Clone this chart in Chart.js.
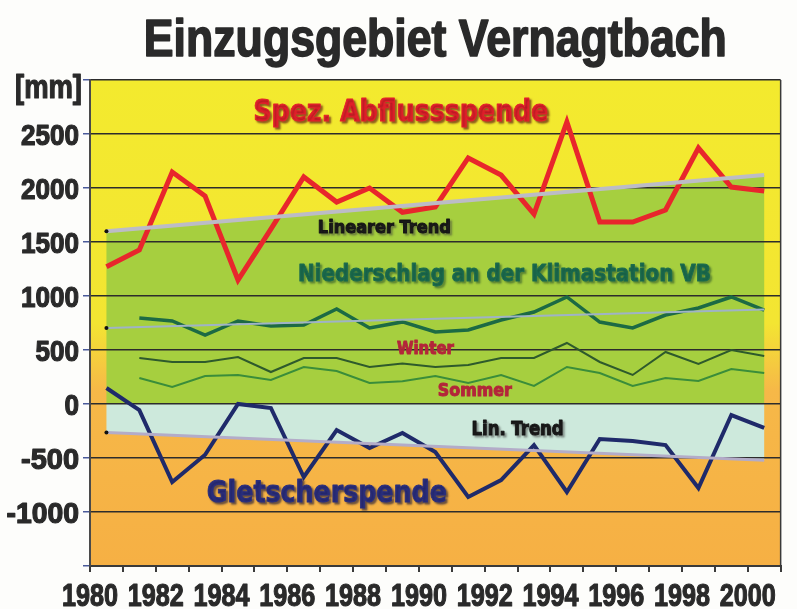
<!DOCTYPE html>
<html>
<head>
<meta charset="utf-8">
<script src="https://cdn.jsdelivr.net/npm/chart.js@4.4.0/dist/chart.umd.min.js"></script>
<style>
    html, body { margin: 0; padding: 0; background: #fdfdfb; }
    #wrap { width: 797px; height: 609px; }
</style>
</head>
<body>
<div id="wrap"><canvas id="chart" width="797" height="609"></canvas></div>
<script>
// hydrological years, plotted at mid-year
const years = [1980, 1981, 1982, 1983, 1984, 1985, 1986, 1987, 1988, 1989, 1990,
               1991, 1992, 1993, 1994, 1995, 1996, 1997, 1998, 1999, 2000];

// Spez. Abflussspende [mm]
const runoff = [1270, 1426, 2148, 1926, 1148, 1620, 2102, 1870, 2000, 1775, 1824,
                2278, 2120, 1759, 2611, 1685, 1685, 1796, 2370, 2009, 1972];
// Niederschlag an der Klimastation VB
const precip = [null, 796, 769, 639, 769, 722, 731, 880, 704, 760, 667,
                685, 778, 852, 991, 759, 704, 824, 889, 991, 870];
const winter = [null, 426, 389, 389, 435, 296, 426, 426, 343, 375, 343,
                361, 426, 426, 565, 389, 269, 482, 370, 500, 444];
const summer = [null, 241, 157, 259, 269, 222, 343, 306, 194, 210, 259,
                194, 269, 167, 343, 287, 167, 241, 213, 324, 287];
// Gletscherspende
const glacier = [148, -56, -722, -470, 0, -37, -676, -241, -407, -269, -444,
                 -861, -704, -380, -815, -324, -343, -380, -778, -102, -222];

// linear trends (first and last year)
const trendYears = [1980, 2000];
const runoffTrend = [1600, 2120];
const precipTrend = [704, 875];
const glacierTrend = [-265, -520];

const xTickLabels = ['1980', '1982', '1984', '1986', '1988', '1990', '1992', '1994', '1996', '1998', '2000'];
const yTickLabels = ['-1000', '-500', '0', '500', '1000', '1500', '2000', '2500'];

const toPoints = (xs, ys) => xs.map((yr, i) => ({ x: yr + 0.5, y: ys[i] }));

const sans = "'Liberation Sans', Arial, sans-serif";
const heavy = "'DejaVu Sans', 'Liberation Sans', sans-serif";

// fill + thin stroke, the scanned lettering is heavier than plain bold
const boldText = (ctx, text, x, y, maxW, weight) => {
    ctx.lineWidth = weight;
    ctx.lineJoin = 'round';
    ctx.strokeStyle = ctx.fillStyle;
    ctx.fillText(text, x, y, maxW);
    ctx.strokeText(text, x, y, maxW);
};

// background of the plot: yellow -> orange, green and cyan bands under the trends
const bandsPlugin = {
    id: 'bands',
    beforeDraw(chart) {
        const { ctx, chartArea: a, scales } = chart;
        ctx.save();
        const grad = ctx.createLinearGradient(0, a.top, 0, a.bottom);
        grad.addColorStop(0, '#f3ea2e');
        grad.addColorStop(0.5, '#f3e532');
        grad.addColorStop(0.64, '#f6b848');
        grad.addColorStop(1, '#f6b044');
        ctx.fillStyle = grad;
        ctx.fillRect(a.left, a.top, a.width, a.height);

        const zeroY = scales.y.getPixelForValue(0);
        const fillBand = (dsIndex, color) => {
            const pts = chart.getDatasetMeta(dsIndex).data;
            ctx.beginPath();
            ctx.moveTo(pts[0].x, zeroY);
            pts.forEach(p => ctx.lineTo(p.x, p.y));
            ctx.lineTo(pts[pts.length - 1].x, zeroY);
            ctx.closePath();
            ctx.fillStyle = color;
            ctx.fill();
        };
        fillBand(0, '#a6cf3f');
        fillBand(2, '#cde9dc');
        ctx.restore();
    },
    afterDatasetsDraw(chart) {
        const { ctx, chartArea: a, scales } = chart;
        ctx.save();
        ctx.strokeStyle = '#3a3a3a';
        ctx.lineWidth = 1.5;
        ctx.beginPath();
        ctx.moveTo(a.right, a.top);
        ctx.lineTo(a.right, a.bottom);
        ctx.stroke();

        const label = (text, xv, yv, size, color, width, shadow) => {
            ctx.font = 'bold ' + size + 'px ' + heavy;
            ctx.textAlign = 'center';
            ctx.textBaseline = 'middle';
            if (shadow) {
                ctx.shadowColor = shadow;
                ctx.shadowOffsetX = 2;
                ctx.shadowOffsetY = 2;
                ctx.shadowBlur = 2;
            } else {
                ctx.shadowColor = 'transparent';
            }
            ctx.fillStyle = color;
            boldText(ctx, text, scales.x.getPixelForValue(xv), scales.y.getPixelForValue(yv), width, 1);
        };
        label('Spez. Abflussspende', 1989.45, 2694, 31, '#e3202b', 295, 'rgba(90,20,20,0.65)');
        label('Linearer Trend', 1988.95, 1630, 18, '#141414', 133, 'rgba(60,60,60,0.45)');
        label('Niederschlag an der Klimastation VB', 1992.6, 1194, 23, '#1b6b4e', 413, 'rgba(20,60,40,0.45)');
        label('Winter', 1990.2, 500, 17, '#b3263a', 57, null);
        label('Sommer', 1991.7, 111, 17, '#b3263a', 74, null);
        label('Lin. Trend', 1993.0, -241, 19, '#141414', 92, 'rgba(60,60,60,0.45)');
        label('Gletscherspende', 1987.2, -833, 31, '#2b2f7e', 240, 'rgba(20,20,60,0.6)');
        ctx.restore();
    },
    afterDraw(chart) {
        const { ctx, chartArea: a, scales } = chart;
        ctx.save();
        ctx.fillStyle = '#2a2a2a';
        ctx.textBaseline = 'alphabetic';

        // title and unit
        ctx.textAlign = 'center';
        ctx.font = 'bold 51px ' + sans;
        boldText(ctx, 'Einzugsgebiet Vernagtbach', (a.left + a.right) / 2, 56, 583, 1.6);
        ctx.textAlign = 'left';
        ctx.font = 'bold 33px ' + sans;
        boldText(ctx, '[mm]', 15, 98, 67, 1.2);

        // narrow bold tick labels at the library's tick positions
        ctx.font = 'bold 29px ' + sans;
        ctx.textAlign = 'right';
        scales.y.ticks.forEach(t => {
            const s = String(t.value);
            if (!yTickLabels.includes(s)) return;
            const w = s.length * 14.5;
            boldText(ctx, s, 79, scales.y.getPixelForValue(t.value) + 10.5, w, 1.2);
        });
        ctx.font = 'bold 32px ' + sans;
        ctx.textAlign = 'center';
        scales.x.ticks.forEach(t => {
            const s = String(t.value);
            if (!xTickLabels.includes(s)) return;
            boldText(ctx, s, scales.x.getPixelForValue(t.value), 606, 56, 1.2);
        });
        ctx.restore();
    }
};

const lineDs = (data, color, width) => ({
    data: data,
    borderColor: color,
    borderWidth: width,
    pointRadius: 0,
    fill: false,
    tension: 0,
    spanGaps: false
});

const trendDs = (data, color, width) => ({
    data: data,
    borderColor: color,
    borderWidth: width,
    pointRadius: [2, 0],
    pointBackgroundColor: '#111',
    pointBorderWidth: 0,
    fill: false
});

new Chart(document.getElementById('chart'), {
    type: 'line',
    data: {
        datasets: [
            trendDs(toPoints(trendYears, runoffTrend), '#bcbcc6', 4),
            trendDs(toPoints(trendYears, precipTrend), '#9fb3c6', 2),
            trendDs(toPoints(trendYears, glacierTrend), '#b3acc8', 3),
            lineDs(toPoints(years, runoff), '#e8262c', 5),
            lineDs(toPoints(years, glacier), '#1f2a6a', 4),
            lineDs(toPoints(years, precip), '#1c6a44', 3.5),
            lineDs(toPoints(years, winter), '#2e5a2c', 2),
            lineDs(toPoints(years, summer), '#3a8d3a', 2)
        ]
    },
    options: {
        responsive: false,
        animation: false,
        layout: { padding: { top: 80, right: 2, bottom: 0, left: 0 } },
        plugins: {
            legend: { display: false },
            tooltip: { enabled: false }
        },
        scales: {
            x: {
                type: 'linear',
                min: 1980,
                max: 2001,
                afterFit: (scale) => { scale.height = 43; },
                ticks: {
                    stepSize: 1,
                    autoSkip: false,
                    maxRotation: 0,
                    color: 'rgba(0,0,0,0)',
                    font: { size: 12 },
                    callback: (value) => String(value)
                },
                grid: {
                    drawOnChartArea: false,
                    drawTicks: true,
                    tickLength: 6,
                    color: '#3a3a3a',
                    lineWidth: 2
                },
                border: { display: true, color: '#3a3a3a', width: 2 }
            },
            y: {
                min: -1500,
                max: 3000,
                afterFit: (scale) => { scale.width = 90; },
                ticks: {
                    stepSize: 500,
                    color: 'rgba(0,0,0,0)',
                    font: { size: 12 },
                    callback: (value) => String(value)
                },
                grid: {
                    color: '#2c2c2c',
                    lineWidth: 1.5,
                    tickLength: 7,
                    tickColor: '#4a5a9a'
                },
                border: { display: true, color: '#4a4a4a', width: 2 }
            }
        }
    },
    plugins: [bandsPlugin]
});
</script>
</body>
</html>
